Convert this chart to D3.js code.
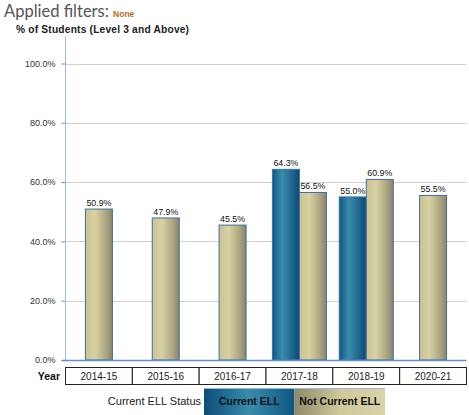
<!DOCTYPE html>
<html>
<head>
<meta charset="utf-8">
<script src="https://cdn.jsdelivr.net/npm/d3@7"></script>
<style>
  html, body { margin: 0; padding: 0; background: #fff; }
  svg { display: block; }
</style>
</head>
<body>
<svg id="chart" width="469" height="415"></svg>
<script>
// Years shown along the x axis
const years = ["2014-15", "2015-16", "2016-17", "2017-18", "2018-19", "2020-21"];
// % of students at Level 3 and above, by ELL status (null = no data)
const currentELL    = [null, null, null, 64.3, 55.0, null];
const notCurrentELL = [50.9, 47.9, 45.5, 56.5, 60.9, 55.5];
const seriesNames = ["Current ELL", "Not Current ELL"];
const yTicks = [0, 20, 40, 60, 80, 100];

const FONT = "Arial, 'Liberation Sans', sans-serif";
const svg = d3.select("#chart");
const plotLeft = 65.5, plotRight = 466.5, plotTop = 63.5, plotBottom = 360;

const defs = svg.append("defs");
function hGrad(id, stops) {
  const g = defs.append("linearGradient").attr("id", id)
    .attr("x1", "0%").attr("x2", "100%").attr("y1", "0%").attr("y2", "0%");
  stops.forEach(([o, c]) => g.append("stop").attr("offset", o).attr("stop-color", c));
}
hGrad("gBlue", [["0%", "#0e5784"], ["35%", "#3a8bab"], ["60%", "#2a7399"], ["100%", "#0a4a74"]]);
hGrad("gTan", [["0%", "#c9c394"], ["35%", "#d8d2a3"], ["70%", "#b3ad87"], ["100%", "#8a8568"]]);
hGrad("gBlueLeg", [["0%", "#0b4d78"], ["50%", "#3a8cac"], ["100%", "#0d5680"]]);
hGrad("gTanLeg", [["0%", "#8e8a6a"], ["50%", "#cfc99a"], ["100%", "#d8d3a8"]]);
const fills = { "Current ELL": "url(#gBlue)", "Not Current ELL": "url(#gTan)" };

// Header
const hdr = svg.append("text").attr("x", 4).attr("y", 17)
  .attr("font-family", "Lato, 'Open Sans', sans-serif").attr("font-size", 16.5)
  .attr("fill", "#555").text("Applied filters: ");
hdr.append("tspan").attr("font-family", FONT).attr("font-size", 8.5).attr("font-weight", "bold")
  .attr("fill", "#b0701e").text("None");
svg.append("text").attr("x", 16).attr("y", 33)
  .attr("font-family", FONT).attr("font-size", 10.2).attr("letter-spacing", 0.2)
  .attr("font-weight", "bold").attr("fill", "#222")
  .text("% of Students (Level 3 and Above)");

// Scales
const x = d3.scaleBand().domain(years).range([plotLeft, plotRight]).padding(0);
const y = d3.scaleLinear().domain([0, 100]).range([plotBottom, plotTop]);

// Grid lines
svg.append("g").selectAll("line").data(yTicks.filter(t => t > 0)).join("line")
  .attr("x1", plotLeft).attr("x2", plotRight)
  .attr("y1", d => Math.round(y(d)) + 0.5).attr("y2", d => Math.round(y(d)) + 0.5)
  .attr("stroke", "#d0d0d0").attr("stroke-width", 1);

// Y axis
const yAxis = d3.axisLeft(y).tickValues(yTicks).tickSize(4).tickPadding(6)
  .tickFormat(d => d.toFixed(1) + "%");
const ya = svg.append("g").attr("transform", `translate(${plotLeft},0)`).call(yAxis);
ya.select(".domain").remove();
ya.selectAll(".tick line").attr("stroke", "#5b8fd0");
ya.selectAll(".tick text").attr("font-family", FONT)
  .attr("font-size", 9).attr("fill", "#333");
svg.append("line").attr("x1", plotLeft).attr("x2", plotLeft).attr("y1", 36).attr("y2", plotBottom)
  .attr("stroke", "#9dbde3").attr("stroke-width", 1);

// Bars
const barW = 27;
const rows = years.map((yr, i) => {
  const vals = [
    { s: "Current ELL", v: currentELL[i] },
    { s: "Not Current ELL", v: notCurrentELL[i] }
  ].filter(d => d.v != null);
  const c = x(yr) + x.bandwidth() / 2;
  const sub = d3.scaleBand().domain(vals.map(d => d.s))
    .range([c - vals.length * barW / 2, c + vals.length * barW / 2]);
  return vals.map(d => ({ ...d, yr, x0: sub(d.s), w: sub.bandwidth() }));
}).flat();

const bars = svg.append("g");
bars.selectAll("rect").data(rows).join("rect")
  .attr("x", d => d.x0).attr("y", d => y(d.v))
  .attr("width", d => d.w).attr("height", d => y(0) - y(d.v))
  .attr("fill", d => fills[d.s])
  .attr("stroke", "#3f6f9e").attr("stroke-width", 1);
bars.selectAll("text").data(rows).join("text")
  .attr("x", d => d.x0 + d.w / 2).attr("y", d => y(d.v) - 3)
  .attr("text-anchor", "middle")
  .attr("font-family", FONT).attr("font-size", 8.8)
  .attr("fill", "#111").text(d => d.v.toFixed(1) + "%");

// Baseline
svg.append("line").attr("x1", plotLeft - 4).attr("x2", plotRight).attr("y1", plotBottom + 0.5).attr("y2", plotBottom + 0.5)
  .attr("stroke", "#5b8fd0").attr("stroke-width", 1.5);

// Year table
const tTop = 367.5, tH = 17;
svg.append("text").attr("x", 60).attr("y", tTop + 12.5).attr("text-anchor", "end")
  .attr("font-family", FONT).attr("font-size", 10.5)
  .attr("font-weight", "bold").attr("fill", "#111").text("Year");
const cells = svg.append("g").selectAll("g").data(years).join("g");
cells.append("rect").attr("x", d => x(d)).attr("y", tTop)
  .attr("width", x.bandwidth()).attr("height", tH)
  .attr("fill", "#fff").attr("stroke", "#222").attr("stroke-width", 1);
cells.append("text").attr("x", d => x(d) + x.bandwidth() / 2).attr("y", tTop + 12)
  .attr("text-anchor", "middle")
  .attr("font-family", FONT).attr("font-size", 10)
  .attr("fill", "#222").text(d => d);

// Legend
svg.append("text").attr("x", 201).attr("y", 405).attr("text-anchor", "end")
  .attr("font-family", FONT).attr("font-size", 11)
  .attr("fill", "#222").text("Current ELL Status");
const legX = d3.scaleBand().domain(seriesNames).range([204, 385]);
const legFills = { "Current ELL": "url(#gBlueLeg)", "Not Current ELL": "url(#gTanLeg)" };
const leg = svg.append("g").selectAll("g").data(seriesNames).join("g");
leg.append("rect").attr("x", d => legX(d)).attr("y", 388)
  .attr("width", legX.bandwidth()).attr("height", 27)
  .attr("fill", d => legFills[d]);
leg.append("text").attr("x", d => legX(d) + legX.bandwidth() / 2).attr("y", 405)
  .attr("text-anchor", "middle")
  .attr("font-family", FONT).attr("font-size", 10.5)
  .attr("font-weight", "bold").attr("fill", "#111").text(d => d);
svg.append("line").attr("x1", 204).attr("x2", 385).attr("y1", 388.5).attr("y2", 388.5)
  .attr("stroke", "#9fb8d6").attr("stroke-width", 1);
</script>
</body>
</html>
